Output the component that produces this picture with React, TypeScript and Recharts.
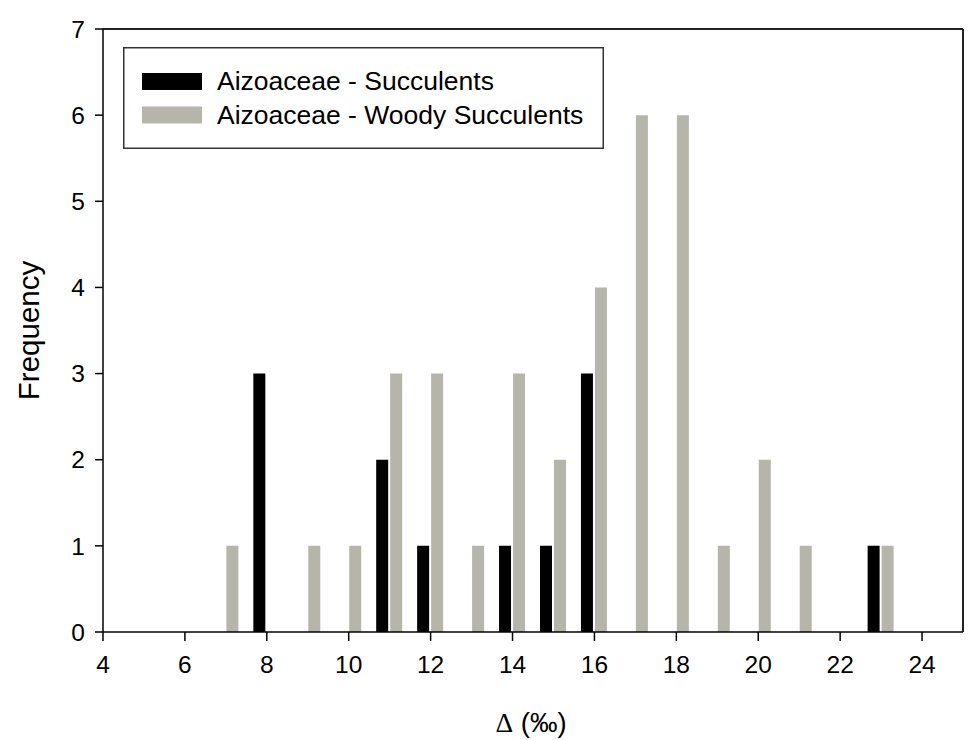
import React from "react";
import { BarChart, Bar, XAxis, YAxis, ReferenceLine, Legend } from "recharts";

const bins = [7, 8, 9, 10, 11, 12, 13, 14, 15, 16, 17, 18, 19, 20, 21, 22, 23];
const succulents = [0, 3, 0, 0, 2, 1, 0, 1, 1, 3, 0, 0, 0, 0, 0, 0, 1];
const woodySucculents = [1, 0, 1, 1, 3, 3, 1, 3, 2, 4, 6, 6, 1, 2, 1, 0, 1];
const xTicks = [4, 6, 8, 10, 12, 14, 16, 18, 20, 22, 24];
const yTicks = [0, 1, 2, 3, 4, 5, 6, 7];
const seriesNames = ["Aizoaceae - Succulents", "Aizoaceae - Woody Succulents"];
const seriesColors = ["#000000", "#b5b5a9"];

const data = bins.map((b, i) => ({
  bin: b,
  succ: succulents[i],
  woody: woodySucculents[i],
}));

const FONT = "'Liberation Sans', Arial, sans-serif";

const LegendBox = () => (
  <svg width={481} height={102} style={{ display: "block" }}>
    <rect x={0.75} y={0.75} width={479.5} height={100.5} fill="#fff" stroke="#333" strokeWidth={1.5} />
    {seriesNames.map((n, i) => (
      <g key={n}>
        <rect x={19} y={26 + i * 33.5} width={60} height={17} fill={seriesColors[i]} />
        <text x={94} y={43 + i * 33.5} fontFamily={FONT} fontSize={26.5} fill="#000">
          {n}
        </text>
      </g>
    ))}
  </svg>
);

const XLabel = (props: any) => {
  const vb = props.viewBox;
  return (
    <text
      x={vb.x + vb.width / 2 - 2}
      y={vb.y + vb.height - 8}
      textAnchor="middle"
      fontSize={27.5}
      fill="#000"
    >
      <tspan fontFamily="'Liberation Serif', 'Times New Roman', serif">Δ</tspan>
      <tspan fontFamily={FONT}> (‰)</tspan>
    </text>
  );
};

export default function App() {
  return (
    <div style={{ position: "absolute", left: 0, top: 0, width: 975, height: 740, background: "#fff" }}>
      <BarChart
        width={975}
        height={740}
        data={data}
        margin={{ top: 29, right: 12, left: 0, bottom: 0 }}
        barSize={12}
        barGap={2}
      >
        <XAxis
          dataKey="bin"
          type="number"
          domain={[4, 25]}
          ticks={xTicks}
          interval={0}
          height={108}
          tickSize={9}
          tickMargin={15}
          stroke="#000"
          strokeWidth={1.5}
          tick={{ fill: "#000", fontSize: 24.5, fontFamily: FONT }}
          allowDataOverflow
          label={<XLabel />}
        />
        <YAxis
          type="number"
          domain={[0, 7]}
          ticks={yTicks}
          interval={0}
          width={103}
          tickSize={8}
          tickMargin={10}
          stroke="#000"
          strokeWidth={1.5}
          tick={{ fill: "#000", fontSize: 24.5, fontFamily: FONT }}
          label={{
            value: "Frequency",
            angle: -90,
            position: "center",
            dx: -23,
            fontSize: 29.5,
            fontFamily: FONT,
            fill: "#000",
          }}
        />
        <ReferenceLine y={7} stroke="#222" strokeWidth={2} ifOverflow="extendDomain" />
        <ReferenceLine x={25} stroke="#222" strokeWidth={2} ifOverflow="extendDomain" />
        <Legend
          layout="vertical"
          align="center"
          verticalAlign="middle"
          wrapperStyle={{ position: "absolute", left: 123, top: 47, width: 481, height: 102 }}
          content={() => <LegendBox />}
        />
        <Bar dataKey="succ" name={seriesNames[0]} fill={seriesColors[0]} isAnimationActive={false} />
        <Bar dataKey="woody" name={seriesNames[1]} fill={seriesColors[1]} isAnimationActive={false} />
      </BarChart>
    </div>
  );
}
